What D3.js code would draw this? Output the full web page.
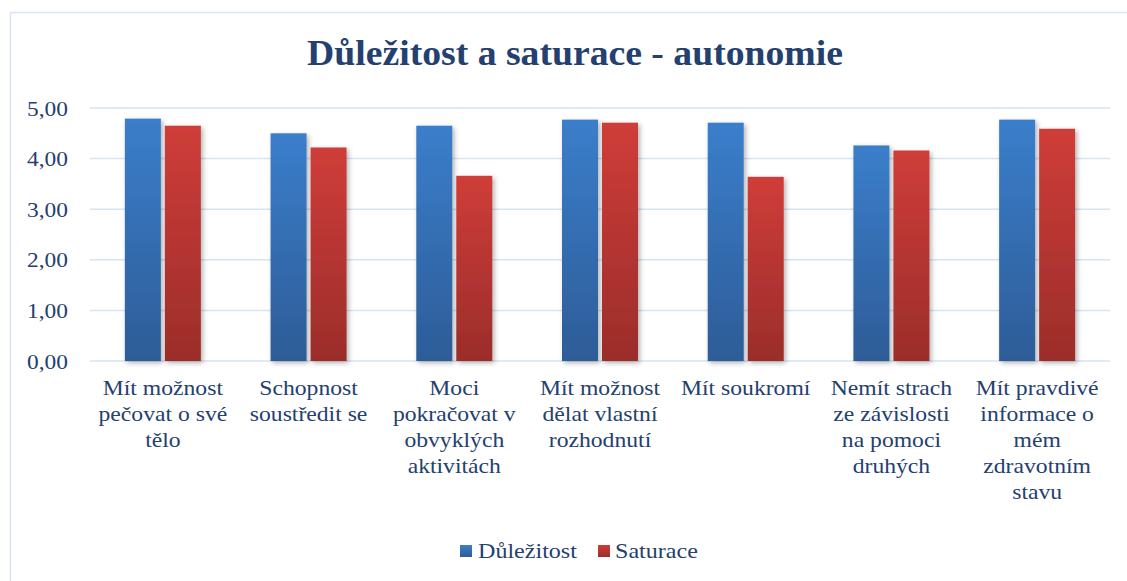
<!DOCTYPE html>
<html>
<head>
<meta charset="utf-8">
<script src="https://cdn.jsdelivr.net/npm/d3@7"></script>
<style>
  body { margin: 0; background: #fff; }
  svg text { font-family: "Liberation Serif", "Times New Roman", serif; fill: #24406F; }
</style>
</head>
<body>
<svg id="chart"></svg>
<script>
// data
const categories = [
  ["Mít možnost", "pečovat o své", "tělo"],
  ["Schopnost", "soustředit se"],
  ["Moci", "pokračovat v", "obvyklých", "aktivitách"],
  ["Mít možnost", "dělat vlastní", "rozhodnutí"],
  ["Mít soukromí"],
  ["Nemít strach", "ze závislosti", "na pomoci", "druhých"],
  ["Mít pravdivé", "informace o", "mém", "zdravotním", "stavu"]
];
const seriesNames = ["Důležitost", "Saturace"];
const dulezitost = [4.79, 4.50, 4.65, 4.77, 4.71, 4.26, 4.77];
const saturace = [4.65, 4.22, 3.66, 4.71, 3.64, 4.16, 4.59];
const yTicks = [0, 1, 2, 3, 4, 5];

const width = 1127, height = 581;
const plotLeft = 90, plotRight = 1110, plotTop = 108, plotBottom = 361;

const svg = d3.select("#chart").attr("width", width).attr("height", height);

const defs = svg.append("defs");
const grads = [["gBlue", "#3B7ECB", "#2D5C97"], ["gRed", "#CF3D39", "#9B2D2A"]];
grads.forEach(g => {
  const lg = defs.append("linearGradient").attr("id", g[0])
    .attr("x1", 0).attr("y1", 0).attr("x2", 0).attr("y2", 1);
  lg.append("stop").attr("offset", "0%").attr("stop-color", g[1]);
  lg.append("stop").attr("offset", "100%").attr("stop-color", g[2]);
});
const f = defs.append("filter").attr("id", "shadow")
  .attr("x", "-20%").attr("y", "-5%").attr("width", "150%").attr("height", "115%");
f.append("feDropShadow").attr("dx", 2).attr("dy", 2).attr("stdDeviation", 2.5)
  .attr("flood-color", "#000").attr("flood-opacity", 0.3);

// frame
svg.append("rect").attr("x", 10.5).attr("y", 12.5)
  .attr("width", width + 20).attr("height", height + 20)
  .attr("fill", "none").attr("stroke", "#D5E3F3").attr("stroke-width", 1.5);

// title (text in the picture is a bit wider than Times, so stretch it)
svg.append("text").attr("transform", "translate(575,65) scale(1.077,1)")
  .attr("text-anchor", "middle")
  .style("font-size", "35px").style("font-weight", "bold")
  .text("Důležitost a saturace - autonomie");

const x0 = d3.scaleBand().domain(d3.range(categories.length)).range([plotLeft, plotRight]);
const y = d3.scaleLinear().domain([0, 5]).range([plotBottom, plotTop]);

// gridlines
svg.append("g").selectAll("line").data(yTicks).enter().append("line")
  .attr("x1", plotLeft).attr("x2", plotRight)
  .attr("y1", d => y(d)).attr("y2", d => y(d))
  .attr("stroke", "#D5E3F3").attr("stroke-width", 1.5);

// y axis
const yAxis = d3.axisLeft(y).tickValues(yTicks).tickSize(0).tickPadding(0)
  .tickFormat(d => d3.format(".2f")(d).replace(".", ","));
const ya = svg.append("g").attr("transform", "translate(68,0)").call(yAxis);
ya.select(".domain").remove();
ya.attr("font-family", null).attr("font-size", null);
ya.selectAll("text").style("font-size", "20px")
  .attr("fill", null).attr("dy", "0.35em")
  .attr("transform", "scale(1.17,1)");

// bars
const barW = 36, gap = 4;
const series = [dulezitost, saturace];
const fills = ["url(#gBlue)", "url(#gRed)"];
series.forEach((vals, s) => {
  svg.append("g").selectAll("rect").data(vals).enter().append("rect")
    .attr("x", (d, i) => x0(i) + x0.bandwidth() / 2 + (s === 0 ? -barW - gap / 2 : gap / 2))
    .attr("width", barW)
    .attr("y", d => y(d))
    .attr("height", d => y(0) - y(d))
    .attr("fill", fills[s])
    .attr("filter", "url(#shadow)");
});

// category labels
const cl = svg.append("g");
categories.forEach((lines, i) => {
  const t = cl.append("text")
    .attr("transform", `translate(${x0(i) + x0.bandwidth() / 2},0) scale(1.1,1)`)
    .attr("text-anchor", "middle").style("font-size", "21.5px");
  lines.forEach((ln, j) => {
    t.append("tspan").attr("x", 0).attr("y", 395 + j * 26).text(ln);
  });
});

// legend
const legend = [[460, 478], [598, 615]];
seriesNames.forEach((n, i) => {
  svg.append("rect").attr("x", legend[i][0]).attr("y", 545).attr("width", 12).attr("height", 12)
    .attr("fill", fills[i]);
  svg.append("text").attr("transform", `translate(${legend[i][1]},558) scale(1.12,1)`)
    .style("font-size", "21.5px").text(n);
});
</script>
</body>
</html>
